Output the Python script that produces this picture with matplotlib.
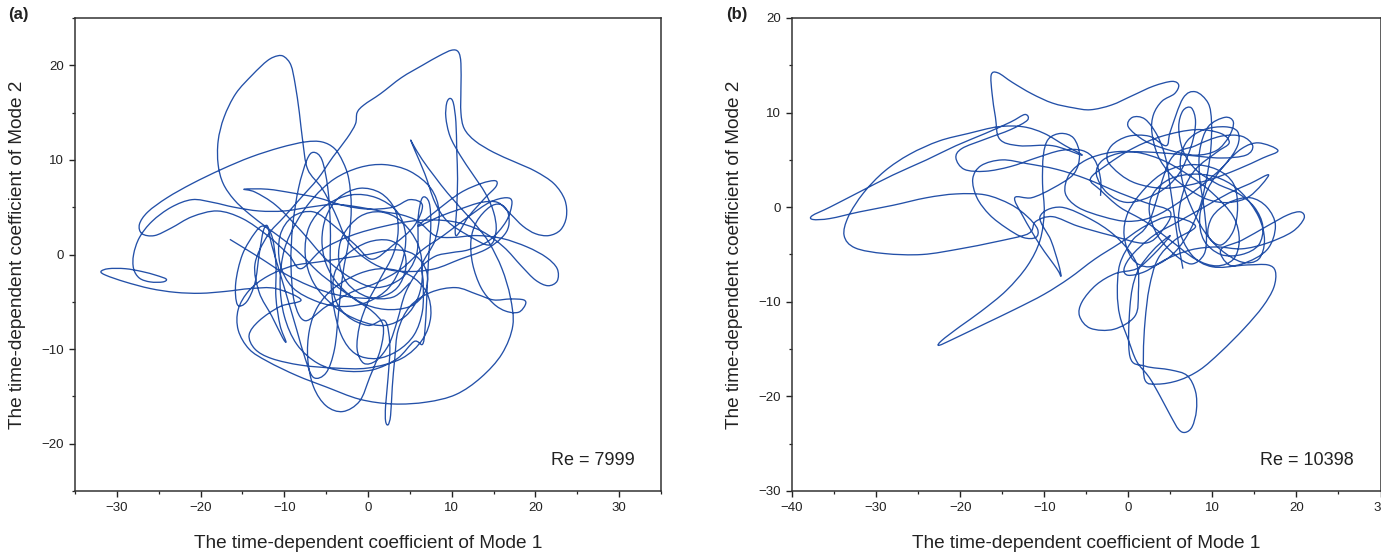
import numpy as np
import matplotlib
matplotlib.use("Agg")
import matplotlib.pyplot as plt
from matplotlib.ticker import MultipleLocator
from matplotlib.path import Path
from matplotlib.patches import PathPatch

plt.rcParams['font.family'] = ['Liberation Sans', 'DejaVu Sans']

# ---------------- data ----------------
# Panel (a), Re = 7999 : (mode-1 coefficient, mode-2 coefficient)
traj_a = [
    (-16.5, 1.6), (-13, -0.3), (-10, -2), (-7, -3.3), (-4, -4.2), (-1, -4.6), (1.5, -4.5),
    (3.5, -3.5), (4.5, -1.5), (4.2, 0.5), (2.5, 1.5), (0, 1.3), (-2.5, 0), (-4, -2), (-4, -4.5),
    (-2.5, -6.5), (0, -7.5), (2, -7), (2.6, -9.5), (2.4, -13), (2.1, -16), (2.1, -17.6), (2.4, -18),
    (2.7, -17), (2.9, -14), (3.2, -11), (3.6, -8), (5, -5.5), (7.5, -4), (10.5, -3.5), (13, -4.2),
    (15, -4.8), (17, -4.7), (18.6, -4.8), (18.8, -5.3), (18, -6.1), (16.5, -6), (15, -5.2),
    (13.5, -3.5), (12.5, -1), (12.3, 1.5), (13, 3.5), (14.5, 5), (15.8, 5.3), (16.7, 4.5), (16.8, 3),
    (16, 1.8), (14, 0.5), (11, -0.5), (8, -1.5), (5, -1.8), (2, -1.5), (-0.5, -0.3), (-2.5, 1.5),
    (-4, 4.5), (-5.5, 7), (-7.2, 9), (-7.8, 12), (-8.2, 15), (-8.7, 18), (-9.2, 20), (-10, 20.9),
    (-10.8, 21), (-12, 20.5), (-13.8, 19), (-15.8, 17), (-17.2, 14.5), (-17.9, 12), (-17.9, 9.5),
    (-17.3, 7.5), (-16, 5.8), (-14.2, 4.3), (-12, 2.8), (-10, 1.5), (-8, 0), (-6, -1.8), (-4, -3.2),
    (-1.5, -4.8), (0.5, -6), (1.8, -7.5), (1.5, -10), (0.2, -13), (-1, -15.5), (-3, -16.6),
    (-5, -16), (-6.5, -14), (-7.2, -11), (-7, -8), (-6, -5.5), (-4, -3.5), (-1, -2), (2, -1.5),
    (5, -2.2), (7, -4), (7.5, -6.5), (6.5, -9), (4, -11), (0, -12), (-4, -12), (-8, -11.7),
    (-11.5, -11), (-13.5, -10), (-14.2, -8.5), (-13, -7), (-10.5, -5.5), (-8, -4.8), (-11, -3.6),
    (-14, -3.6), (-17, -3.9), (-20, -4.1), (-23, -4), (-26, -3.6), (-29, -2.9), (-31.3, -2.2),
    (-31.9, -1.8), (-31, -1.5), (-29, -1.5), (-27, -1.8), (-25.3, -2.2), (-24.1, -2.6), (-24.5, -2.9),
    (-26, -2.9), (-27.3, -2.5), (-28, -1.5), (-28, 0), (-27.3, 1.8), (-25.8, 3.5), (-23.5, 5),
    (-21, 5.8), (-18.5, 5.5), (-16, 5), (-13, 4.6), (-10, 4.6), (-7, 5), (-4, 5.3), (-1, 5), (2, 4.5),
    (4, 4.2), (6, 3.5), (8, 2), (10, 1.8), (13, 2), (16, 1.7), (19, 0.8), (21.3, -0.3), (22.6, -1.5),
    (22.6, -2.8), (21.5, -3.3), (20, -2.7), (18.3, -1.2), (16.2, 0.8), (13.5, 2.5), (10, 3.5),
    (6, 3.6), (2, 3), (-2, 2), (-5.5, 0.5), (-8, -1.5), (-9.5, 0), (-12, 2), (-15, 3.8), (-18, 4.6),
    (-21, 4), (-23.5, 2.8), (-25.5, 2), (-27, 2.2), (-27.3, 3.2), (-26.3, 4.5), (-24, 6), (-21, 7.5),
    (-17.5, 9), (-14, 10.3), (-10.5, 11.3), (-7.5, 11.9), (-5.5, 11.9), (-4, 11.2), (-3, 9.8),
    (-2.3, 8), (-2, 5), (-2.3, 1.5), (-3, -2), (-3.5, -6), (-4, -10), (-5, -12.5), (-6.5, -13),
    (-7.5, -11), (-8.5, -8), (-9.5, -5), (-10.5, -2), (-11.5, 1), (-12, 3), (-12.5, 2.5), (-13, 0),
    (-13.5, -3), (-14.5, -5), (-15.6, -5.3), (-15.8, -3), (-15, 0), (-13.5, 2.3), (-12.5, 3),
    (-11.5, 2), (-11, -1), (-11, -4.5), (-10.5, -7.5), (-9.8, -9.2), (-10.2, -8.8), (-11.5, -6.5),
    (-13, -4), (-13.5, -1), (-12, 2), (-10, 4), (-8, 6), (-6, 8), (-4.2, 10.3), (-2.5, 12.3),
    (-1.5, 13.8), (-1.3, 15), (-0.5, 15.8), (1.5, 17), (4, 18.7), (6.5, 20), (8.5, 21), (10, 21.6),
    (10.8, 21.4), (11.1, 20.2), (11.1, 17.5), (11.1, 15), (11.5, 13.3), (12.8, 12), (15, 10.8),
    (17.5, 9.8), (20, 8.8), (22.2, 7.5), (23.5, 5.8), (23.7, 4), (23, 2.6), (21.6, 2), (20, 2.2),
    (18.5, 3), (17, 4.3), (15.5, 5.5), (13.5, 5.5), (11, 4.8), (8.5, 4), (6, 3), (8, 4.5), (11, 6.5),
    (13.5, 7.5), (15.2, 7.8), (15.3, 7.2), (14, 6), (12, 4), (10.5, 2), (10.6, 5), (10.7, 8),
    (10.6, 11), (10.5, 14), (10.2, 16), (9.8, 16.5), (9.4, 16), (9.3, 14.5), (9.8, 12.5), (11, 10.5),
    (12.5, 8.5), (14, 6.5), (15, 4.5), (15.3, 2.5), (14.5, 1), (12, 2), (9.5, 3.5), (8, 5.5),
    (6.8, 8.5), (5.6, 11), (5.1, 12.1), (5.4, 11.6), (6.5, 10), (8, 8.2), (9.5, 6.5), (11.5, 4.5),
    (13, 3), (14.5, 1.2), (16, -1.5), (17, -4.5), (17.3, -7.5), (16, -10.5), (13.5, -13),
    (10.5, -14.8), (7, -15.6), (3, -15.8), (-1, -15.3), (-5, -14), (-8.5, -12.8), (-12, -11.3),
    (-14.2, -10), (-15.5, -8), (-15.5, -5.8), (-14.2, -3.8), (-12, -2.3), (-9, -1.2), (-6, -0.8),
    (-3, -0.4), (0, 0), (3, 0.5), (5.5, 0), (7, -1.8), (6.8, -4), (5, -5.5), (2, -5.8), (-1, -5),
    (-3.5, -3.2), (-5, -1), (-5.5, 1.5), (-5, 4), (-3.5, 6), (-1, 7), (1.5, 6.5), (3.2, 4.8),
    (3.6, 2.5), (3, 0), (1.5, -2.5), (0, -5), (-1, -7.5), (-1.3, -10), (-0.5, -11.5), (1, -11.2),
    (2.5, -9.5), (3.5, -7), (4.5, -4), (6.2, -1.5), (8, -0.2), (10, 0.2), (12, 0.5), (14.5, 1.5),
    (16.5, 3.5), (17.2, 5.5), (16.5, 6), (14.5, 5.5), (12, 4), (9, 2), (6.5, 0.5), (4, -1.5),
    (1, -3), (-2, -4), (-5, -5.5), (-7.5, -7), (-8.8, -5), (-9.2, -1), (-9, 3), (-8.3, 7),
    (-7.3, 10), (-6.5, 10.8), (-5.5, 10), (-4.8, 7), (-4.5, 3), (-4.5, -1), (-4.2, -5), (-3.2, -8.5),
    (-1.5, -10.5), (1, -11), (3.5, -10.2), (5.5, -8.5), (6.5, -6), (6.6, -3), (6.5, -1), (8, 1.5),
    (8.5, 4.5), (7.5, 7), (5, 8.8), (2, 9.5), (-1, 9.2), (-4, 8), (-6.5, 6), (-8.5, 3.5),
    (-10, 0.5), (-10.5, -3), (-10, -6.5), (-8.5, -9.5), (-6, -11.5), (-3, -12.3), (0.5, -12.2),
    (3.5, -11), (5.5, -9.2), (6.5, -9.5), (6.8, -8), (7, -5), (7.2, -1), (7.5, 3), (7.3, 5.5),
    (6.5, 6), (6, 4), (5.8, 0), (4, -2.5), (1, -3.5), (-2, -2.5), (-5, -0.5), (-8, 2.5),
    (-11, 5.2), (-13.5, 6.6), (-14.8, 6.9), (-12, 6.9), (-9, 6.5), (-6, 6), (-3, 5.2), (0, 4.8),
    (3, 5), (5, 5.8), (6.5, 5.2), (5.5, 3), (3, 1), (0.5, -0.5), (-1.5, 1), (-4, 3), (-6.5, 4.5),
    (-9, 4), (-10.5, 2), (-10.5, -1), (-9, -3.5), (-6, -5), (-3, -5.5), (0, -5), (2.5, -3.5),
    (4, -1), (4.5, 2), (3.5, 4.5), (1, 6), (-2, 6.3), (-5, 5.2), (-7, 3), (-7.5, 0), (-6.5, -3),
    (-4, -5.5), (-1, -7), (2, -7.5), (4.5, -6.5), (6, -4.5), (6.5, -2), (6, 1), (4, 3.5),
    (1.5, 4.5), (-1, 4), (-3, 2), (-3.5, -0.5), (-2.5, -3), (0, -4.5), (3, -4.5), (5, -3),
]

# Panel (b), Re = 10398
traj_b = [
    (-3.3, 1.2), (-3.3, 3), (-4, 5), (-5.5, 6), (-8, 6), (-11, 5.2), (-14, 4.3), (-17, 3.8),
    (-19.5, 4), (-20.5, 5.2), (-19.8, 6.2), (-17, 7.2), (-14, 8.2), (-12, 9.2), (-12.3, 9.8),
    (-14, 9), (-17, 7.8), (-20.5, 6.5), (-24, 5), (-28, 3.4), (-32, 1.6), (-35.5, 0), (-37.6, -0.9),
    (-37.5, -1.3), (-35.5, -1.2), (-32, -0.5), (-28, 0.2), (-24, 1), (-20.5, 1.4), (-17, 1.3),
    (-14, 0.3), (-12, -1), (-10.8, -2.3), (-11, -3.2), (-12.5, -3.2), (-14.5, -2.2), (-16.5, -0.8),
    (-18, 1), (-18.5, 3), (-17.5, 4.4), (-15, 5), (-12, 4.6), (-8.5, 4), (-5, 3), (-1, 1.5),
    (2, 0.5), (5, -0.5), (4, -2.5), (2, -3.8), (-2, -3), (-6, -2), (-9, -1), (-11, -1.5),
    (-11.5, -2.5), (-12.5, -3), (-16, -3.7), (-20, -4.4), (-24.5, -5), (-29, -4.9), (-32.5, -4.3),
    (-33.8, -3), (-33.3, -1), (-31.5, 1.5), (-29, 3.8), (-26, 5.6), (-22.5, 7), (-19, 7.8),
    (-15.5, 8.5), (-12.5, 8.5), (-10, 7.8), (-7.5, 6.5), (-5.5, 5.5), (-9, 6.5), (-13, 6.5),
    (-15.3, 7.2), (-15.8, 9.5), (-16.2, 12), (-16.3, 14), (-15.5, 14.2), (-13.8, 13.2),
    (-11.5, 12), (-9, 11), (-6.5, 10.5), (-4.5, 10.3), (-2, 10.8), (0.5, 11.8), (3, 12.8),
    (5.2, 13.3), (6, 12.9), (5.5, 12), (4, 11.2), (3, 9.8), (2.8, 8), (3.5, 5.5), (5, 3.5), (7, 2),
    (9.5, 0.8), (12, 0.5), (14.5, 1.2), (16.7, 3.4), (14.5, 2.5), (12, 1.5), (9, 0), (6, -1.5),
    (3, -3), (0.5, -5), (-0.5, -6.5), (0, -7.2), (2, -6.8), (4.5, -5.5), (7.5, -4.5), (10.5, -4.2),
    (13.5, -4.4), (16.5, -3.8), (19.5, -2.6), (20.9, -1.2), (20.5, -0.5), (19, -0.8), (16.5, -2),
    (13.5, -3.5), (11, -4.5), (12, -6.1), (14.2, -6.1), (16.6, -6.1), (17.5, -6.8), (17.3, -8.5),
    (16, -10.5), (13.8, -12.8), (11, -15.3), (8.5, -17.2), (6, -18.3), (3.5, -18.7), (2, -18.3),
    (1.8, -15.5), (2, -12), (2.5, -8.5), (3.5, -5.5), (5.5, -3.5), (8, -2), (5, -1), (2, -2),
    (-1, -3.8), (-4, -5.5), (-7, -7.5), (-10, -9.2), (-13.5, -10.8), (-17, -12.3), (-20.5, -13.8),
    (-22.5, -14.6), (-22.2, -14.1), (-20, -12.6), (-17.5, -11), (-14.5, -8.8), (-12, -6.2),
    (-10.5, -3.5), (-10, -0.5), (-10.2, 2.5), (-10.1, 5.5), (-9.5, 7.2), (-8, 7.8), (-6.5, 7.3),
    (-5.8, 5.5), (-6.5, 3.5), (-9, 2), (-11.5, 1), (-13.5, 1), (-12.5, -1), (-10.5, -4),
    (-8.5, -6.5), (-8, -7.3), (-8.3, -6), (-9.2, -3.5), (-10.5, -1), (-8, 0), (-4, -1.5),
    (-1, -3.5), (1, -6), (1.2, -9), (0.8, -11.5), (-1.7, -12.9), (-4.5, -12.8), (-5.8, -11.5),
    (-5.5, -10), (-3.8, -8.2), (-1.5, -7), (1, -6.5), (3, -5), (5, -3), (3, -4.5), (1, -7),
    (0.2, -10.5), (0.2, -15.8), (2, -16.8), (5, -17.2), (7, -17.8), (8, -19.5), (8.1, -21.5),
    (7.6, -23.2), (6.8, -23.8), (6, -23.5), (5, -22), (3.8, -20), (2.5, -18), (1, -16.3),
    (0, -14), (-1, -11.5), (-1.3, -9), (-1, -6), (0.5, -3.5), (2.5, -1.5), (5, 5), (8, 6.5),
    (11, 7.5), (13.5, 7.5), (14.8, 6.5), (14, 5.5), (11, 5.2), (7, 5.5), (3, 5.8), (-0.5, 5.8),
    (-3, 5), (-3.8, 3.5), (-2.5, 1.5), (0, 0.5), (3.5, 1.5), (6, 3.5), (7.5, 6.5), (8, 9),
    (7.5, 10.5), (6.5, 10.2), (6, 8.5), (6.5, 6), (8, 4), (10.5, 2.5), (13, 1.5), (15, 0),
    (16, -2), (15.5, -4), (13.5, -5), (11, -5), (9, -3.5), (8.5, -1), (9.5, 2), (11.5, 4.5),
    (13.5, 6.2), (15.5, 6.8), (17.8, 6), (16, 5.2), (13, 4), (10, 3), (7, 2.3), (4, 2), (1, 2.5),
    (-1, 3.5), (-2.5, 5), (-2, 6.5), (0, 7.5), (2.5, 7.5), (4.5, 6.5), (5, 8), (6.5, 11.5),
    (8, 12.2), (9.5, 11), (9.9, 9), (9.8, 6), (9.3, 3), (8.5, 0), (7, -3), (5, -5.2), (2.5, -6.3),
    (0.5, -5.5), (-0.5, -3), (0, -0.5), (2, 2), (4.5, 3.8), (7.5, 4.5), (10.5, 4), (12.5, 2.5),
    (13, 0), (12.5, -2.5), (11, -4), (9.5, -3), (10, -1), (12, 0.5), (14.5, 1), (16.5, 0), (17.5, -2),
    (16.5, -4.5), (13.5, -6), (10, -6.3), (7.5, -5), (6, -2), (6.5, 1.5), (8, 4), (10.5, 5.8),
    (12, 6.8), (11, 7.8), (8, 8.2), (4, 7.5), (0.5, 6.2), (-2.5, 4.5), (-4.5, 3), (-3.3, 1.8),
    (-1, 0), (2, -1.5), (5, -3.5), (8, -5.5), (10.5, -6.2), (12.5, -5.5), (13.2, -3.5), (12.5, -1),
    (10, 1.5), (7, 3.5), (4, 5), (1, 5.8), (-2, 5.8), (-5, 5), (-7, 3.5), (-7.5, 1.5), (-6, 0),
    (-3, -1), (0, -1.5), (3, -1), (6, 0.5), (9, 2.5), (11.5, 4.5), (13, 6.5), (13, 8), (11.5, 8.5),
    (9, 8.2), (7, 7), (6.2, 5), (6.5, 2.5), (7.5, 0), (9, -2.5), (11, -4.5), (13.5, -5.8),
    (15.5, -5.5), (16.2, -3.5), (15.5, -1), (13.5, 1.5), (11, 3), (8, 3.5), (5, 3), (3, 1.5),
    (2.5, -0.5), (3.5, -3), (5.5, -5), (7.5, -6), (9, -5), (9.3, -3), (9, 0), (8.5, 3), (8.5, 6),
    (9.5, 8.5), (11.5, 9.5), (12.5, 9), (12, 7.5), (10.5, 6), (8, 5.5), (5, 6), (2, 7), (0, 8.5),
    (0.5, 9.5), (2, 9.3), (3.5, 7.5), (4.5, 5), (5, 2), (5.5, -1), (6, -4), (6.5, -6.5),
]

titles = ["(a)", "(b)"]
re_labels = ["Re = 7999", "Re = 10398"]
xlims = [(-35, 35), (-40, 30)]
ylims = [(-25, 25), (-30, 20)]
xlabel = "The time-dependent coefficient of Mode 1"
ylabel = "The time-dependent coefficient of Mode 2"


def smooth_path(pts):
    """Curve through the read points (Catmull-Rom rendered as cubic Bezier segments)."""
    p = np.asarray(pts, dtype=float)
    ext = np.vstack([p[0], p, p[-1]])
    verts = [tuple(p[0])]
    codes = [Path.MOVETO]
    for k in range(1, len(ext) - 2):
        p0, p1, p2, p3 = ext[k - 1], ext[k], ext[k + 1], ext[k + 2]
        c1 = p1 + (p2 - p0) / 6.0
        c2 = p2 - (p3 - p1) / 6.0
        verts += [tuple(c1), tuple(c2), tuple(p2)]
        codes += [Path.CURVE4] * 3
    return Path(verts, codes)


# ---------------- figure ----------------
W, H = 1381, 555
fig = plt.figure(figsize=(W / 100, H / 100), dpi=100)
axes_px = [(75, 18, 661, 491), (792, 18, 1380.5, 491)]
label_px = [(8, 14), (726, 14)]
line_color = "#2350a8"

for i, traj in enumerate([traj_a, traj_b]):
    l, t, r, b = axes_px[i]
    ax = fig.add_axes([l / W, 1 - b / H, (r - l) / W, (b - t) / H])
    patch = PathPatch(smooth_path(traj), facecolor="none", edgecolor=line_color, lw=0.95,
                      transform=ax.transData, joinstyle="round")
    ax.add_patch(patch)
    ax.set_xlim(*xlims[i])
    ax.set_ylim(*ylims[i])
    ax.xaxis.set_major_locator(MultipleLocator(10))
    ax.xaxis.set_minor_locator(MultipleLocator(5))
    ax.yaxis.set_major_locator(MultipleLocator(10))
    ax.yaxis.set_minor_locator(MultipleLocator(5))
    ax.tick_params(which="major", direction="out", length=4, width=1.0, labelsize=9.5,
                   colors="#222222", pad=4)
    ax.tick_params(which="minor", direction="out", length=2.5, width=0.9, colors="#222222")
    for s in ax.spines.values():
        s.set_linewidth(1.1)
        s.set_color("#333333")
    ax.set_xlabel(xlabel, fontsize=13.7, labelpad=15, color="#222222")
    ax.set_ylabel(ylabel, fontsize=13.7, labelpad=11, color="#222222")
    ax.text(0.955, 0.065, re_labels[i], transform=ax.transAxes, ha="right", va="center",
            fontsize=13, color="#222222")
    fig.text(label_px[i][0] / W, 1 - label_px[i][1] / H, titles[i], fontsize=12,
             fontweight="bold", ha="left", va="center", color="#222222")

fig.savefig("out.png", dpi=100)
